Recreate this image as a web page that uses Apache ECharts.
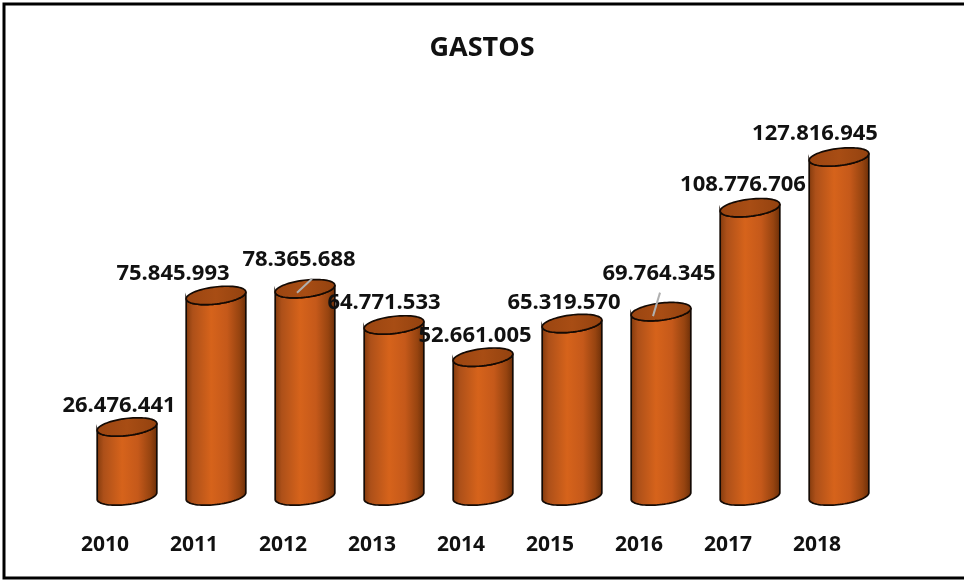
<!DOCTYPE html>
<html>
<head>
<meta charset="utf-8">
<script src="https://cdn.jsdelivr.net/npm/echarts@6/dist/echarts.min.js"></script>
<style>html,body{margin:0;padding:0;background:#fff}#c{width:964px;height:582px}</style>
</head>
<body>
<div id="c"></div>
<script>
const title = 'GASTOS';
const years = ['2010','2011','2012','2013','2014','2015','2016','2017','2018'];
const gastos = [26476441, 75845993, 78365688, 64771533, 52661005, 65319570, 69764345, 108776706, 127816945];
// label placement relative to top of each cylinder (dx, dy) and optional leader line
const labelDx = [-8, -43, -6, -10, -8, -8, -2, -7, -24];
const labelDy = [-21, -22, -29, -22, -21, -21, -38, -23, -23];
const leaders = {2: [-8, 4, 7, -10], 6: [-8, 4.5, -1, -19]};

function fmt(v){ return String(v).replace(/\B(?=(\d{3})+(?!\d))/g, '.'); }

const chart = echarts.init(document.getElementById('c'), null, {renderer:'canvas'});
const theta = 7 * Math.PI / 180;
const ry = 8.5;

function ellPt(cx, cy, a, b, t){
  return [cx + a*Math.cos(t)*Math.cos(theta) + b*Math.sin(t)*Math.sin(theta),
          cy - a*Math.cos(t)*Math.sin(theta) + b*Math.sin(t)*Math.cos(theta)];
}

function renderItem(params, api){
  const idx = api.value(0);
  const val = api.value(1);
  const base = api.coord([idx, 0]);
  const top = api.coord([idx, val]);
  const w = api.size([1, 0])[0] * 0.675;
  const a = w/2, cx = base[0], by = base[1] - 1.5, ty = top[1];
  const N = 40;
  const body = [];
  for (let i=0;i<=N;i++) body.push(ellPt(cx, by, a, ry, Math.PI*i/N));
  for (let i=0;i<=N;i++) body.push(ellPt(cx, ty, a, ry, Math.PI - Math.PI*i/N));
  const topPts = [];
  for (let i=0;i<N*2;i++) topPts.push(ellPt(cx, ty, a, ry, Math.PI*i/N));
  const grad = new echarts.graphic.LinearGradient(0,0,1,0,[
    {offset:0, color:'#80390c'},
    {offset:0.12, color:'#ad5019'},
    {offset:0.42, color:'#d6631b'},
    {offset:0.68, color:'#c5591a'},
    {offset:0.88, color:'#974410'},
    {offset:1, color:'#6a2e08'}
  ]);
  const children = [
    {type:'polygon', shape:{points:body}, style:{fill:grad, stroke:'#140a04', lineWidth:1.7}},
    {type:'polygon', shape:{points:topPts}, style:{fill:new echarts.graphic.LinearGradient(0,0,1,0,[
      {offset:0,color:'#9a4511'},{offset:0.5,color:'#a84d14'},{offset:1,color:'#93420f'}]), stroke:'#140a04', lineWidth:1.7}}
  ];
  const ld = leaders[idx];
  if (ld){
    children.push({type:'line', shape:{x1:cx+ld[0], y1:ty+ld[1], x2:cx+ld[2], y2:ty+ld[3]},
      style:{stroke:'#b0b0b0', lineWidth:2}});
  }
  children.push({type:'text', x: cx + labelDx[idx], y: ty + labelDy[idx],
    style:{text: fmt(val), fill:'#111', font:'bold 22px "Open Sans"', align:'center', verticalAlign:'middle'}});
  return {type:'group', children};
}

chart.setOption({
  animation:false,
  backgroundColor:'#fff',
  title:{text:title, left:'center', top:30, textStyle:{fontFamily:'"Open Sans"', fontWeight:'bold', fontSize:27, color:'#111'}},
  grid:{left:82.5, right:80.5, top:124.5, bottom:84.5},
  xAxis:{type:'category', data:years, axisLine:{show:false}, axisTick:{show:false},
    axisLabel:{margin:37, padding:[0,44,0,0], color:'#111', fontFamily:'"Open Sans"', fontWeight:'bold', fontSize:21}},
  yAxis:{type:'value', min:0, max:140000000, show:false, splitLine:{show:false}},
  series:[{type:'custom', renderItem, data: gastos.map((v,i)=>[i,v]), encode:{x:0,y:1}, clip:false}],
  graphic:[{type:'rect', shape:{x:4, y:4, width:980, height:574}, style:{fill:'none', stroke:'#000', lineWidth:3}, z:100}]
});
</script>
</body>
</html>
